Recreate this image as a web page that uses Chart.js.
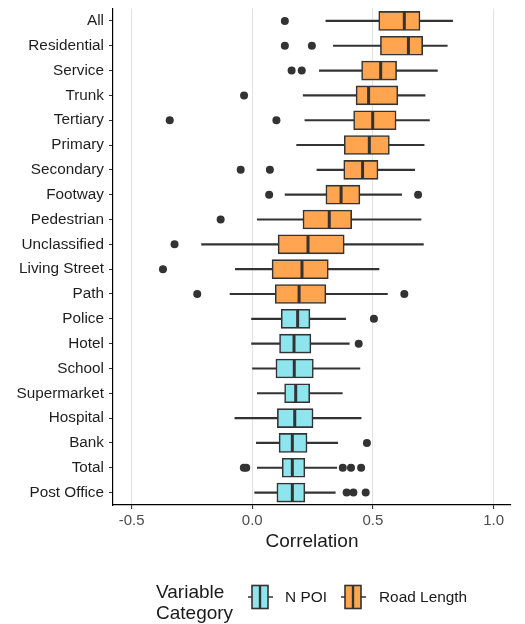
<!DOCTYPE html>
<html>
<head>
<meta charset="utf-8">
<script src="https://cdn.jsdelivr.net/npm/chart.js@4.4.1/dist/chart.umd.min.js"></script>
<style>
  body { margin: 0; background: #fff; font-family: "Liberation Sans", Arial, sans-serif; }
  #wrap { position: relative; width: 525px; height: 624px; }
  #legend { position: absolute; left: 0; top: 0; width: 525px; height: 624px; pointer-events: none; }
  .ltitle { position: absolute; left: 156px; top: 581px; font-size: 19px; line-height: 21px; color: #1a1a1a; }
  .lkey { position: absolute; top: 584px; }
  .ltext { position: absolute; top: 587px; font-size: 15.4px; line-height: 20px; color: #1a1a1a; }
</style>
</head>
<body>
<div id="wrap">
  <canvas id="chart" width="525" height="624"></canvas>
  <div id="legend">
    <div class="ltitle">Variable<br>Category</div>
    <canvas class="lkey" id="key-poi" width="27" height="26" style="left:247px"></canvas>
    <div class="ltext" style="left:285px">N POI</div>
    <canvas class="lkey" id="key-road" width="27" height="26" style="left:340px"></canvas>
    <div class="ltext" style="left:379px">Road Length</div>
  </div>
</div>
<script>
const categories = ['All', 'Residential', 'Service', 'Trunk', 'Tertiary', 'Primary', 'Secondary',
  'Footway', 'Pedestrian', 'Unclassified', 'Living Street', 'Path', 'Police', 'Hotel', 'School',
  'Supermarket', 'Hospital', 'Bank', 'Total', 'Post Office'];
const groups = ['Road Length', 'Road Length', 'Road Length', 'Road Length', 'Road Length', 'Road Length',
  'Road Length', 'Road Length', 'Road Length', 'Road Length', 'Road Length', 'Road Length',
  'N POI', 'N POI', 'N POI', 'N POI', 'N POI', 'N POI', 'N POI', 'N POI'];

const whiskerLow = [0.305, 0.336, 0.278, 0.211, 0.218, 0.184, 0.268, 0.136, 0.021, -0.210, -0.070, -0.092,
  -0.003, -0.003, 0.001, 0.021, -0.072, 0.017, 0.021, 0.010];
const q1 = [0.524, 0.531, 0.453, 0.430, 0.420, 0.381, 0.379, 0.305, 0.210, 0.107, 0.082, 0.095,
  0.120, 0.113, 0.098, 0.134, 0.104, 0.111, 0.124, 0.102];
const median = [0.630, 0.647, 0.532, 0.482, 0.499, 0.485, 0.457, 0.368, 0.319, 0.231, 0.206, 0.194,
  0.188, 0.173, 0.174, 0.180, 0.176, 0.166, 0.166, 0.166];
const q3 = [0.695, 0.706, 0.598, 0.603, 0.596, 0.568, 0.521, 0.446, 0.412, 0.381, 0.315, 0.305,
  0.239, 0.243, 0.253, 0.238, 0.252, 0.227, 0.218, 0.218];
const whiskerHigh = [0.830, 0.808, 0.767, 0.716, 0.734, 0.712, 0.673, 0.619, 0.699, 0.709, 0.525, 0.560,
  0.387, 0.402, 0.446, 0.373, 0.451, 0.354, 0.350, 0.344];
const outliers = [
  [0.135], [0.135, 0.247], [0.163, 0.205], [-0.034], [-0.342, 0.100], [], [-0.048, 0.073],
  [0.070, 0.687], [-0.131], [-0.322], [-0.370], [-0.228, 0.630],
  [0.504], [0.441], [], [], [], [0.475], [-0.035, -0.025, 0.375, 0.409, 0.451], [0.391, 0.419, 0.470]
];

const groupColors = { 'N POI': '#8ee5ee', 'Road Length': '#ffa54f' };
const inkColor = '#333333';

function boxesFor(group) {
  return categories.map((c, i) => groups[i] === group ? [q1[i], q3[i]] : null);
}

const outlierPoints = [];
outliers.forEach((list, i) => {
  list.forEach(v => outlierPoints.push({ x: v, y: categories[i] }));
});

const ctx = document.getElementById('chart').getContext('2d');
new Chart(ctx, {
  type: 'bar',
  data: {
    labels: categories,
    datasets: [
      {
        label: 'whiskers',
        data: categories.map((c, i) => [whiskerLow[i], whiskerHigh[i]]),
        backgroundColor: inkColor,
        borderWidth: 0,
        barThickness: 1.5,
        grouped: false,
        order: 5
      },
      {
        label: 'N POI',
        data: boxesFor('N POI'),
        backgroundColor: groupColors['N POI'],
        borderColor: inkColor,
        borderWidth: 1.6,
        borderSkipped: false,
        barThickness: 19,
        grouped: false,
        order: 4
      },
      {
        label: 'Road Length',
        data: boxesFor('Road Length'),
        backgroundColor: groupColors['Road Length'],
        borderColor: inkColor,
        borderWidth: 1.6,
        borderSkipped: false,
        barThickness: 19,
        grouped: false,
        order: 4
      },
      {
        type: 'scatter',
        label: 'median',
        indexAxis: 'y',
        data: categories.map((c, i) => ({ x: median[i], y: c })),
        pointStyle: 'line',
        rotation: 90,
        radius: 9,
        borderWidth: 3,
        borderColor: inkColor,
        order: 2
      },
      {
        type: 'scatter',
        label: 'outliers',
        indexAxis: 'y',
        data: outlierPoints,
        pointStyle: 'circle',
        radius: 4,
        borderWidth: 0,
        backgroundColor: inkColor,
        order: 1
      }
    ]
  },
  options: {
    indexAxis: 'y',
    responsive: false,
    animation: false,
    layout: { autoPadding: false, padding: { top: 8.5, right: 14, bottom: 68, left: 0 } },
    plugins: { legend: { display: false }, tooltip: { enabled: false } },
    scales: {
      x: {
        type: 'linear',
        min: -0.577,
        max: 1.072,
        afterFit: (scale) => { scale.height = 51; },
        ticks: {
          stepSize: 0.5,
          includeBounds: false,
          padding: 3,
          color: '#4d4d4d',
          font: { family: 'Liberation Sans', size: 15 },
          callback: (v) => Number(v).toFixed(1)
        },
        grid: { color: '#e3e3e3', lineWidth: 1.1, tickColor: inkColor, tickLength: 4 },
        border: { display: true, color: '#000', width: 1.2 },
        title: {
          display: true,
          text: 'Correlation',
          color: '#1a1a1a',
          font: { family: 'Liberation Sans', size: 19 },
          padding: { top: 0, bottom: 3 }
        }
      },
      y: {
        type: 'category',
        afterFit: (scale) => {
          scale.width = 113;
          scale.paddingTop = 0;
          scale.paddingBottom = 0;
        },
        ticks: {
          padding: 5,
          color: '#1e1e1e',
          font: { family: 'Liberation Sans', size: 15.3 }
        },
        grid: { drawOnChartArea: false, offset: false, tickColor: inkColor, tickLength: 4 },
        border: { display: true, color: '#000', width: 1.2 }
      }
    }
  }
});

// legend key glyphs (horizontal boxplot icon)
function drawKey(id, fill) {
  const k = document.getElementById(id).getContext('2d');
  k.strokeStyle = inkColor;
  k.lineWidth = 1.5;
  k.beginPath();
  k.moveTo(1, 13); k.lineTo(26, 13);
  k.stroke();
  k.fillStyle = fill;
  k.fillRect(5, 1.5, 16, 23);
  k.lineWidth = 1.6;
  k.strokeRect(5, 1.5, 16, 23);
  k.lineWidth = 2.4;
  k.beginPath();
  k.moveTo(13, 1.5); k.lineTo(13, 24.5);
  k.stroke();
}
drawKey('key-poi', groupColors['N POI']);
drawKey('key-road', groupColors['Road Length']);
</script>
</body>
</html>
